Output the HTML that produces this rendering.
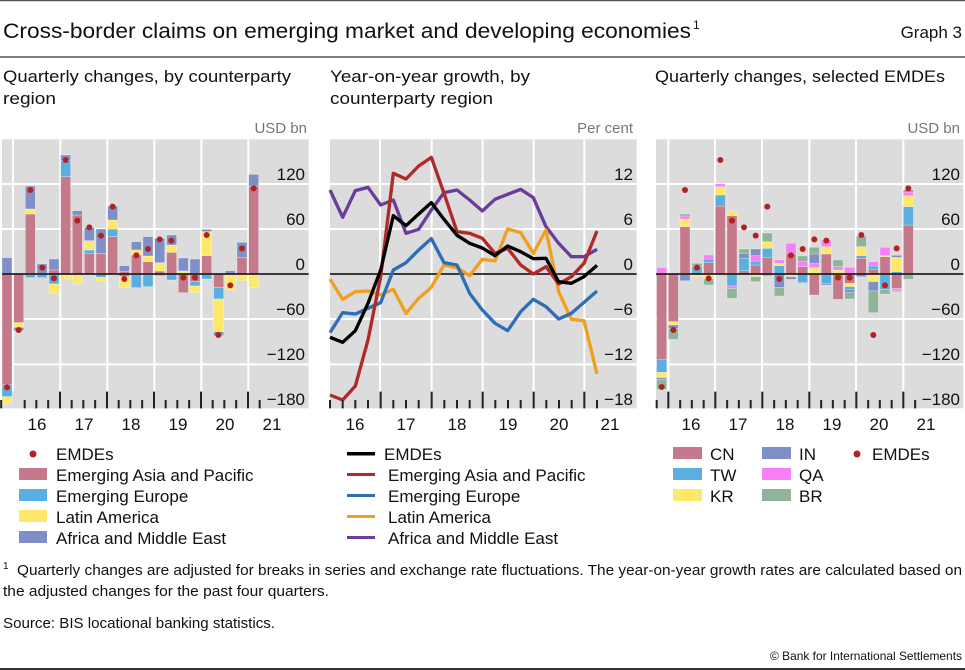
<!DOCTYPE html>
<html><head><meta charset="utf-8"><style>
html,body{margin:0;padding:0;background:#fff;}
svg{display:block;font-family:"Liberation Sans",sans-serif;}
</style></head><body>
<svg width="965" height="670" viewBox="0 0 965 670" xmlns="http://www.w3.org/2000/svg">
<rect width="965" height="670" fill="#fff"/>
<line x1="0" y1="0.5" x2="965" y2="0.5" stroke="#555" stroke-width="1.5"/>
<line x1="0" y1="57" x2="965" y2="57" stroke="#555" stroke-width="1.5"/>
<line x1="0" y1="669" x2="965" y2="669" stroke="#333" stroke-width="2"/>
<text x="3" y="38" font-size="21" textLength="688" lengthAdjust="spacingAndGlyphs" fill="#111">Cross-border claims on emerging market and developing economies</text>
<text x="693" y="29" font-size="12" fill="#111">1</text>
<text x="962" y="38" font-size="17" text-anchor="end" fill="#111">Graph 3</text>

<g font-size="17" fill="#111">
<text x="3" y="82" textLength="288" lengthAdjust="spacingAndGlyphs">Quarterly changes, by counterparty</text>
<text x="3" y="104" textLength="53" lengthAdjust="spacingAndGlyphs">region</text>
<text x="330" y="82" textLength="200" lengthAdjust="spacingAndGlyphs">Year-on-year growth, by</text>
<text x="330" y="104" textLength="163" lengthAdjust="spacingAndGlyphs">counterparty region</text>
<text x="655" y="82" textLength="290" lengthAdjust="spacingAndGlyphs">Quarterly changes, selected EMDEs</text>
</g>
<g font-size="15" fill="#777" text-anchor="end">
<text x="307" y="133">USD bn</text>
<text x="633" y="133">Per cent</text>
<text x="960" y="133">USD bn</text>
</g>

<!-- PANEL 1 -->
<g transform="translate(0,130) scale(0.333333)">
<rect x="6" y="28" width="920" height="807" fill="#dcdcdc"/>
<g stroke="#fff" stroke-width="6">
<path d="M6 162H926M6 297H926M6 567H926M6 703H926"/>
<path d="M39 28V785M181 28V785M322 28V785M463 28V785M604 28V785M745 28V785"/>
</g>
<g stroke="#fff" stroke-opacity="0.6" stroke-width="1.5">
<!-- bars -->
<rect x="6" y="383" width="30" height="49" fill="#7f8fc8"/><rect x="6" y="432" width="30" height="333" fill="#c47a8a"/><rect x="6" y="765" width="30" height="35" fill="#5aaee0"/><rect x="6" y="800" width="30" height="22" fill="#fce86a"/>
<rect x="41" y="432" width="30" height="146" fill="#c47a8a"/><rect x="41" y="578" width="30" height="14" fill="#fce86a"/><rect x="41" y="592" width="30" height="10" fill="#7f8fc8"/>
<rect x="76" y="252" width="30" height="180" fill="#c47a8a"/><rect x="76" y="237" width="30" height="15" fill="#fce86a"/><rect x="76" y="168" width="30" height="69" fill="#7f8fc8"/><rect x="76" y="432" width="30" height="11" fill="#5aaee0"/>
<rect x="111" y="402" width="30" height="28" fill="#7f8fc8"/><rect x="111" y="432" width="30" height="11" fill="#5aaee0"/>
<rect x="147" y="387" width="30" height="33" fill="#7f8fc8"/><rect x="147" y="420" width="30" height="12" fill="#c47a8a"/><rect x="147" y="432" width="30" height="30" fill="#5aaee0"/><rect x="147" y="462" width="30" height="28" fill="#fce86a"/>
<rect x="182" y="140" width="30" height="292" fill="#c47a8a"/><rect x="182" y="92" width="30" height="48" fill="#5aaee0"/><rect x="182" y="75" width="30" height="17" fill="#7f8fc8"/><rect x="182" y="432" width="30" height="15" fill="#fce86a"/>
<rect x="217" y="255" width="30" height="177" fill="#c47a8a"/><rect x="217" y="242" width="30" height="13" fill="#7f8fc8"/><rect x="217" y="432" width="30" height="30" fill="#fce86a"/>
<rect x="253" y="370" width="30" height="62" fill="#c47a8a"/><rect x="253" y="360" width="30" height="10" fill="#5aaee0"/><rect x="253" y="332" width="30" height="28" fill="#fce86a"/><rect x="253" y="293" width="30" height="39" fill="#7f8fc8"/>
<rect x="288" y="370" width="30" height="62" fill="#c47a8a"/><rect x="288" y="297" width="30" height="73" fill="#7f8fc8"/><rect x="288" y="432" width="30" height="10" fill="#5aaee0"/><rect x="288" y="442" width="30" height="11" fill="#fce86a"/>
<rect x="323" y="320" width="30" height="112" fill="#c47a8a"/><rect x="323" y="297" width="30" height="23" fill="#5aaee0"/><rect x="323" y="270" width="30" height="27" fill="#fce86a"/><rect x="323" y="228" width="30" height="42" fill="#7f8fc8"/>
<rect x="358" y="407" width="30" height="18" fill="#7f8fc8"/><rect x="358" y="425" width="30" height="7" fill="#c47a8a"/><rect x="358" y="432" width="30" height="8" fill="#c47a8a"/><rect x="358" y="440" width="30" height="32" fill="#fce86a"/>
<rect x="394" y="375" width="30" height="57" fill="#c47a8a"/><rect x="394" y="360" width="30" height="15" fill="#fce86a"/><rect x="394" y="335" width="30" height="25" fill="#7f8fc8"/><rect x="394" y="432" width="30" height="41" fill="#5aaee0"/>
<rect x="429" y="395" width="30" height="37" fill="#c47a8a"/><rect x="429" y="378" width="30" height="17" fill="#fce86a"/><rect x="429" y="320" width="30" height="58" fill="#7f8fc8"/><rect x="429" y="432" width="30" height="38" fill="#5aaee0"/>
<rect x="464" y="423" width="30" height="9" fill="#c47a8a"/><rect x="464" y="398" width="30" height="25" fill="#fce86a"/><rect x="464" y="325" width="30" height="73" fill="#7f8fc8"/><rect x="464" y="432" width="30" height="5" fill="#5aaee0"/>
<rect x="500" y="367" width="30" height="65" fill="#c47a8a"/><rect x="500" y="345" width="30" height="22" fill="#fce86a"/><rect x="500" y="315" width="30" height="30" fill="#7f8fc8"/><rect x="500" y="432" width="30" height="18" fill="#5aaee0"/>
<rect x="535" y="384" width="30" height="39" fill="#7f8fc8"/><rect x="535" y="423" width="30" height="9" fill="#fce86a"/><rect x="535" y="432" width="30" height="56" fill="#c47a8a"/>
<rect x="570" y="387" width="30" height="45" fill="#7f8fc8"/><rect x="570" y="432" width="30" height="23" fill="#c47a8a"/><rect x="570" y="455" width="30" height="13" fill="#5aaee0"/><rect x="570" y="468" width="30" height="20" fill="#fce86a"/>
<rect x="605" y="377" width="30" height="55" fill="#c47a8a"/><rect x="605" y="305" width="30" height="72" fill="#fce86a"/><rect x="605" y="298" width="30" height="7" fill="#7f8fc8"/><rect x="605" y="432" width="30" height="15" fill="#5aaee0"/>
<rect x="641" y="432" width="30" height="40" fill="#c47a8a"/><rect x="641" y="472" width="30" height="35" fill="#5aaee0"/><rect x="641" y="507" width="30" height="98" fill="#fce86a"/><rect x="641" y="605" width="30" height="12" fill="#7f8fc8"/>
<rect x="676" y="422" width="30" height="10" fill="#7f8fc8"/><rect x="676" y="432" width="30" height="46" fill="#fce86a"/>
<rect x="711" y="382" width="30" height="50" fill="#c47a8a"/><rect x="711" y="337" width="30" height="45" fill="#7f8fc8"/><rect x="711" y="432" width="30" height="20" fill="#fce86a"/>
<rect x="746" y="168" width="30" height="264" fill="#c47a8a"/><rect x="746" y="133" width="30" height="35" fill="#7f8fc8"/><rect x="746" y="432" width="30" height="41" fill="#fce86a"/>
</g>
<line x1="6" y1="432" x2="926" y2="432" stroke="#222" stroke-width="5"/>
<g fill="#b22222">
<circle cx="21" cy="772" r="9"/><circle cx="56" cy="600" r="9"/><circle cx="91" cy="180" r="9"/><circle cx="127" cy="413" r="9"/><circle cx="162" cy="445" r="9"/><circle cx="197" cy="90" r="9"/><circle cx="232" cy="272" r="9"/><circle cx="268" cy="292" r="9"/><circle cx="303" cy="317" r="9"/><circle cx="338" cy="230" r="9"/><circle cx="373" cy="447" r="9"/><circle cx="409" cy="376" r="9"/><circle cx="444" cy="357" r="9"/><circle cx="479" cy="328" r="9"/><circle cx="514" cy="332" r="9"/><circle cx="550" cy="443" r="9"/><circle cx="585" cy="443" r="9"/><circle cx="620" cy="315" r="9"/><circle cx="655" cy="615" r="9"/><circle cx="691" cy="466" r="9"/><circle cx="726" cy="355" r="9"/><circle cx="761" cy="175" r="9"/>
</g>
<g stroke="#222" stroke-width="6">
<path d="M3.5 810V835M74 810V835M109 810V835M144.5 810V835M215 810V835M250 810V835M285.5 810V835M356 810V835M391 810V835M426.5 810V835M497 810V835M532 810V835M567.5 810V835M638 810V835M673 810V835M708.5 810V835M779 810V835"/>
<path d="M180 785V835M321 785V835M462 785V835M603 785V835M744 785V835"/>
</g>
</g>

<!-- PANEL 2 -->
<g transform="translate(325,130) scale(0.333333)">
<rect x="15" y="28" width="920" height="807" fill="#dcdcdc"/>
<g stroke="#fff" stroke-width="6">
<path d="M15 162H935M15 297H935M15 567H935M15 703H935"/>
<path d="M165 28V785M320 28V785M473 28V785M626 28V785M778 28V785"/>
</g>
<line x1="15" y1="432" x2="935" y2="432" stroke="#222" stroke-width="5"/>
<g fill="none" stroke-width="10" stroke-linejoin="round">
<polyline stroke="#6a3d9a" points="15,180 53,262 91,182 129,172 167,225 205,210 243,310 281,298 319,240 357,188 396,180 434,210 472,243 510,208 548,193 587,178 625,203 663,290 701,340 739,380 777,380 816,358"/>
<polyline stroke="#f0a020" points="15,447 53,508 91,485 129,483 167,495 205,478 243,550 281,505 319,472 357,405 396,413 434,437 472,388 510,393 548,297 587,308 625,370 663,300 701,485 739,568 777,572 816,732"/>
<polyline stroke="#2f6db5" points="15,608 53,548 91,552 129,535 167,518 205,420 243,398 281,360 319,326 357,398 396,405 434,490 472,540 510,580 548,602 587,545 625,508 663,530 701,567 739,550 777,517 816,483"/>
<polyline stroke="#b02a2a" points="15,795 53,810 91,768 129,630 167,440 205,130 243,147 281,108 319,82 357,190 396,305 434,310 472,325 510,370 548,355 587,405 625,432 663,410 701,462 739,440 777,400 816,303"/>
<polyline stroke="#000" points="15,622 53,637 91,602 129,520 167,420 205,257 243,287 281,252 319,218 357,268 396,316 434,340 472,354 510,377 548,348 587,365 625,386 663,385 701,455 739,460 777,440 816,406"/>
</g>
<g stroke="#222" stroke-width="6">
<path d="M15 810V835M53 810V835M91 810V835M129 810V835M205 810V835M243 810V835M281 810V835M358 810V835M396 810V835M434 810V835M511 810V835M549 810V835M587 810V835M664 810V835M702 810V835M740 810V835M816 810V835"/>
<path d="M167 785V835M320 785V835M473 785V835M626 785V835M778 785V835"/>
</g>
</g>

<!-- PANEL 3 -->
<g transform="translate(650,130) scale(0.333333)">
<rect x="18" y="28" width="922" height="807" fill="#dcdcdc"/>
<g stroke="#fff" stroke-width="6">
<path d="M18 162H940M18 297H940M18 567H940M18 703H940"/>
<path d="M55 28V785M195 28V785M336 28V785M478 28V785M618 28V785M760 28V785"/>
</g>
<g stroke="#fff" stroke-opacity="0.5" stroke-width="1.5">
<rect x="20" y="413" width="30" height="19" fill="#f77ff7"/><rect x="20" y="432" width="30" height="256" fill="#c47a8a"/><rect x="20" y="688" width="30" height="39" fill="#5aaee0"/><rect x="20" y="727" width="30" height="16" fill="#fce86a"/><rect x="20" y="743" width="30" height="5" fill="#7f8fc8"/><rect x="20" y="748" width="30" height="30" fill="#8fb49a"/>
<rect x="55" y="432" width="30" height="143" fill="#c47a8a"/><rect x="55" y="575" width="30" height="10" fill="#fce86a"/><rect x="55" y="585" width="30" height="10" fill="#7f8fc8"/><rect x="55" y="595" width="30" height="33" fill="#8fb49a"/>
<rect x="90" y="290" width="30" height="142" fill="#c47a8a"/><rect x="90" y="267" width="30" height="23" fill="#fce86a"/><rect x="90" y="258" width="30" height="9" fill="#f77ff7"/><rect x="90" y="252" width="30" height="6" fill="#8fb49a"/><rect x="90" y="432" width="30" height="20" fill="#7f8fc8"/>
<rect x="126" y="410" width="30" height="22" fill="#5aaee0"/><rect x="126" y="400" width="30" height="10" fill="#8fb49a"/><rect x="126" y="432" width="30" height="8" fill="#fce86a"/>
<rect x="161" y="398" width="30" height="34" fill="#c47a8a"/><rect x="161" y="387" width="30" height="11" fill="#5aaee0"/><rect x="161" y="375" width="30" height="12" fill="#f77ff7"/><rect x="161" y="432" width="30" height="15" fill="#fce86a"/><rect x="161" y="447" width="30" height="18" fill="#8fb49a"/>
<rect x="196" y="228" width="30" height="204" fill="#c47a8a"/><rect x="196" y="195" width="30" height="33" fill="#5aaee0"/><rect x="196" y="170" width="30" height="25" fill="#fce86a"/><rect x="196" y="162" width="30" height="8" fill="#f77ff7"/>
<rect x="231" y="257" width="30" height="175" fill="#c47a8a"/><rect x="231" y="243" width="30" height="14" fill="#fce86a"/><rect x="231" y="432" width="30" height="36" fill="#5aaee0"/><rect x="231" y="468" width="30" height="7" fill="#f77ff7"/><rect x="231" y="475" width="30" height="30" fill="#8fb49a"/>
<rect x="267" y="422" width="30" height="10" fill="#c47a8a"/><rect x="267" y="385" width="30" height="37" fill="#5aaee0"/><rect x="267" y="370" width="30" height="15" fill="#7f8fc8"/><rect x="267" y="357" width="30" height="13" fill="#8fb49a"/>
<rect x="302" y="405" width="30" height="27" fill="#c47a8a"/><rect x="302" y="393" width="30" height="12" fill="#5aaee0"/><rect x="302" y="377" width="30" height="16" fill="#f77ff7"/><rect x="302" y="357" width="30" height="20" fill="#7f8fc8"/><rect x="302" y="432" width="30" height="8" fill="#fce86a"/><rect x="302" y="440" width="30" height="15" fill="#8fb49a"/>
<rect x="337" y="383" width="30" height="49" fill="#c47a8a"/><rect x="337" y="355" width="30" height="28" fill="#5aaee0"/><rect x="337" y="335" width="30" height="20" fill="#fce86a"/><rect x="337" y="309" width="30" height="26" fill="#8fb49a"/><rect x="337" y="432" width="30" height="5" fill="#7f8fc8"/>
<rect x="373" y="407" width="30" height="25" fill="#5aaee0"/><rect x="373" y="400" width="30" height="7" fill="#fce86a"/><rect x="373" y="390" width="30" height="10" fill="#f77ff7"/><rect x="373" y="432" width="30" height="40" fill="#7f8fc8"/><rect x="373" y="472" width="30" height="26" fill="#8fb49a"/>
<rect x="408" y="372" width="30" height="60" fill="#c47a8a"/><rect x="408" y="340" width="30" height="32" fill="#f77ff7"/><rect x="408" y="432" width="30" height="8" fill="#fce86a"/><rect x="408" y="440" width="30" height="8" fill="#7f8fc8"/>
<rect x="443" y="410" width="30" height="22" fill="#c47a8a"/><rect x="443" y="395" width="30" height="15" fill="#f77ff7"/><rect x="443" y="378" width="30" height="17" fill="#8fb49a"/><rect x="443" y="432" width="30" height="26" fill="#5aaee0"/>
<rect x="478" y="413" width="30" height="19" fill="#fce86a"/><rect x="478" y="400" width="30" height="13" fill="#f77ff7"/><rect x="478" y="372" width="30" height="28" fill="#7f8fc8"/><rect x="478" y="352" width="30" height="20" fill="#8fb49a"/><rect x="478" y="432" width="30" height="63" fill="#c47a8a"/>
<rect x="514" y="372" width="30" height="60" fill="#c47a8a"/><rect x="514" y="350" width="30" height="22" fill="#fce86a"/><rect x="514" y="330" width="30" height="20" fill="#f77ff7"/><rect x="514" y="432" width="30" height="28" fill="#5aaee0"/><rect x="514" y="460" width="30" height="5" fill="#7f8fc8"/>
<rect x="549" y="420" width="30" height="12" fill="#fce86a"/><rect x="549" y="410" width="30" height="10" fill="#f77ff7"/><rect x="549" y="390" width="30" height="20" fill="#8fb49a"/><rect x="549" y="432" width="30" height="76" fill="#c47a8a"/>
<rect x="584" y="412" width="30" height="20" fill="#f77ff7"/><rect x="584" y="432" width="30" height="28" fill="#c47a8a"/><rect x="584" y="460" width="30" height="10" fill="#fce86a"/><rect x="584" y="470" width="30" height="8" fill="#5aaee0"/><rect x="584" y="478" width="30" height="10" fill="#7f8fc8"/><rect x="584" y="488" width="30" height="19" fill="#8fb49a"/>
<rect x="619" y="385" width="30" height="47" fill="#c47a8a"/><rect x="619" y="377" width="30" height="8" fill="#5aaee0"/><rect x="619" y="350" width="30" height="27" fill="#fce86a"/><rect x="619" y="318" width="30" height="32" fill="#8fb49a"/><rect x="619" y="432" width="30" height="8" fill="#7f8fc8"/>
<rect x="655" y="418" width="30" height="14" fill="#c47a8a"/><rect x="655" y="408" width="30" height="10" fill="#5aaee0"/><rect x="655" y="395" width="30" height="13" fill="#f77ff7"/><rect x="655" y="432" width="30" height="23" fill="#fce86a"/><rect x="655" y="455" width="30" height="28" fill="#7f8fc8"/><rect x="655" y="483" width="30" height="65" fill="#8fb49a"/>
<rect x="690" y="380" width="30" height="52" fill="#c47a8a"/><rect x="690" y="377" width="30" height="3" fill="#fce86a"/><rect x="690" y="352" width="30" height="25" fill="#f77ff7"/><rect x="690" y="432" width="30" height="46" fill="#5aaee0"/><rect x="690" y="478" width="30" height="14" fill="#8fb49a"/>
<rect x="725" y="425" width="30" height="7" fill="#5aaee0"/><rect x="725" y="382" width="30" height="43" fill="#fce86a"/><rect x="725" y="376" width="30" height="6" fill="#7f8fc8"/><rect x="725" y="432" width="30" height="43" fill="#c47a8a"/><rect x="725" y="475" width="30" height="6" fill="#f77ff7"/><rect x="725" y="481" width="30" height="4" fill="#8fb49a"/>
<rect x="760" y="285" width="30" height="147" fill="#c47a8a"/><rect x="760" y="230" width="30" height="55" fill="#5aaee0"/><rect x="760" y="197" width="30" height="33" fill="#fce86a"/><rect x="760" y="186" width="30" height="11" fill="#f77ff7"/><rect x="760" y="180" width="30" height="6" fill="#7f8fc8"/><rect x="760" y="432" width="30" height="16" fill="#8fb49a"/>
</g>
<line x1="18" y1="432" x2="940" y2="432" stroke="#222" stroke-width="5"/>
<g fill="#b22222">
<circle cx="35" cy="771" r="9"/><circle cx="70" cy="600" r="9"/><circle cx="105" cy="180" r="9"/><circle cx="141" cy="413" r="9"/><circle cx="176" cy="445" r="9"/><circle cx="211" cy="90" r="9"/><circle cx="246" cy="272" r="9"/><circle cx="282" cy="292" r="9"/><circle cx="317" cy="317" r="9"/><circle cx="352" cy="230" r="9"/><circle cx="388" cy="447" r="9"/><circle cx="423" cy="376" r="9"/><circle cx="458" cy="357" r="9"/><circle cx="493" cy="328" r="9"/><circle cx="529" cy="332" r="9"/><circle cx="564" cy="443" r="9"/><circle cx="599" cy="443" r="9"/><circle cx="634" cy="315" r="9"/><circle cx="670" cy="615" r="9"/><circle cx="705" cy="466" r="9"/><circle cx="740" cy="355" r="9"/><circle cx="775" cy="175" r="9"/>
</g>
<g stroke="#222" stroke-width="6">
<path d="M20 810V835M90.5 810V835M125.5 810V835M161 810V835M231.5 810V835M266.5 810V835M302 810V835M372.5 810V835M407.5 810V835M443 810V835M513.5 810V835M548.5 810V835M584 810V835M654.5 810V835M689.5 810V835M725 810V835M795.5 810V835"/>
<path d="M55 785V835M196 785V835M337 785V835M478 785V835M619 785V835M760 785V835"/>
</g>
</g>

<!-- axis labels -->
<g font-size="17" fill="#111" text-anchor="end">
<text x="305" y="180">120</text><text x="305" y="225">60</text><text x="305" y="270">0</text><text x="305" y="315">−60</text><text x="305" y="360">−120</text><text x="305" y="405">−180</text>
<text x="633" y="180">12</text><text x="633" y="225">6</text><text x="633" y="270">0</text><text x="633" y="315">−6</text><text x="633" y="360">−12</text><text x="633" y="405">−18</text>
<text x="960" y="180">120</text><text x="960" y="225">60</text><text x="960" y="270">0</text><text x="960" y="315">−60</text><text x="960" y="360">−120</text><text x="960" y="405">−180</text>
</g>
<g font-size="17" fill="#111" text-anchor="middle">
<text x="37" y="430">16</text><text x="84" y="430">17</text><text x="131" y="430">18</text><text x="178" y="430">19</text><text x="225" y="430">20</text><text x="272" y="430">21</text>
<text x="355" y="430">16</text><text x="406" y="430">17</text><text x="457" y="430">18</text><text x="508" y="430">19</text><text x="559" y="430">20</text><text x="610" y="430">21</text>
<text x="691" y="430">16</text><text x="738" y="430">17</text><text x="785" y="430">18</text><text x="832" y="430">19</text><text x="879" y="430">20</text><text x="926" y="430">21</text>
</g>

<!-- legends -->
<g font-size="17" fill="#111">
<circle cx="33" cy="454" r="3.5" fill="#b22222"/><text x="56" y="460">EMDEs</text>
<rect x="19" y="468" width="28" height="12" fill="#c47a8a"/><text x="56" y="481">Emerging Asia and Pacific</text>
<rect x="19" y="489" width="28" height="12" fill="#5aaee0"/><text x="56" y="502">Emerging Europe</text>
<rect x="19" y="510" width="28" height="12" fill="#fce86a"/><text x="56" y="523">Latin America</text>
<rect x="19" y="531" width="28" height="12" fill="#7f8fc8"/><text x="56" y="544">Africa and Middle East</text>

<rect x="347" y="452" width="28" height="3.5" fill="#000"/><text x="384" y="460">EMDEs</text>
<rect x="347" y="473" width="28" height="3" fill="#b02a2a"/><text x="388" y="481">Emerging Asia and Pacific</text>
<rect x="347" y="494" width="28" height="3" fill="#2f6db5"/><text x="388" y="502">Emerging Europe</text>
<rect x="347" y="515" width="28" height="3" fill="#f0a020"/><text x="388" y="523">Latin America</text>
<rect x="347" y="536" width="28" height="3" fill="#6a3d9a"/><text x="388" y="544">Africa and Middle East</text>

<rect x="673" y="447" width="29" height="12" fill="#c47a8a"/><text x="710" y="460">CN</text>
<rect x="673" y="468" width="29" height="12" fill="#5aaee0"/><text x="710" y="481">TW</text>
<rect x="673" y="489" width="29" height="12" fill="#fce86a"/><text x="710" y="502">KR</text>
<rect x="762" y="447" width="29" height="12" fill="#7f8fc8"/><text x="799" y="460">IN</text>
<rect x="762" y="468" width="29" height="12" fill="#f77ff7"/><text x="799" y="481">QA</text>
<rect x="762" y="489" width="29" height="12" fill="#8fb49a"/><text x="799" y="502">BR</text>
<circle cx="857" cy="454" r="3.5" fill="#b22222"/><text x="872" y="460">EMDEs</text>
</g>

<!-- footnotes -->
<g font-size="15" fill="#111">
<text x="3" y="569" font-size="10">1</text>
<text x="17" y="575" textLength="945" lengthAdjust="spacingAndGlyphs">Quarterly changes are adjusted for breaks in series and exchange rate fluctuations. The year-on-year growth rates are calculated based on</text>
<text x="3" y="596" textLength="326" lengthAdjust="spacingAndGlyphs">the adjusted changes for the past four quarters.</text>
<text x="3" y="628" textLength="272" lengthAdjust="spacingAndGlyphs">Source: BIS locational banking statistics.</text>
<text x="962" y="660" font-size="12" text-anchor="end" textLength="192" lengthAdjust="spacingAndGlyphs">© Bank for International Settlements</text>
</g>
</svg>
</body></html>
